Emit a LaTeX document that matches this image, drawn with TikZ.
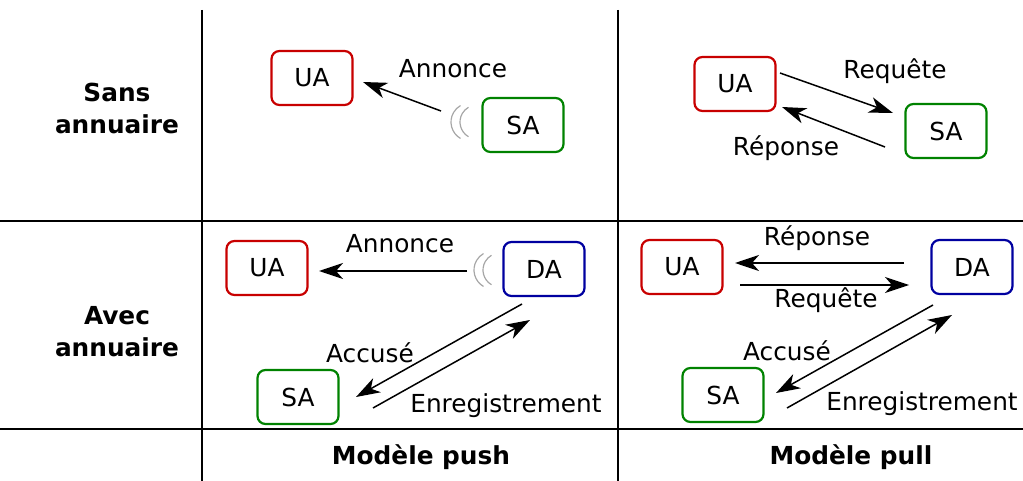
\documentclass[tikz,border=0pt]{standalone}
\usepackage{fontspec}
\setmainfont{DejaVu Sans}
\usetikzlibrary{arrows.meta}
\definecolor{uared}{RGB}{200,0,0}
\definecolor{sagreen}{RGB}{0,130,0}
\definecolor{dablue}{RGB}{0,0,160}
\begin{document}
\begin{tikzpicture}[x=1pt,y=-1pt,
  every node/.style={font=\fontsize{24.8}{30}\selectfont},
  agent/.style={draw,rounded corners=8pt,line width=2.2pt,minimum width=81pt,minimum height=54pt,inner sep=0pt},
  ua/.style={agent,draw=uared},
  sa/.style={agent,draw=sagreen},
  da/.style={agent,draw=dablue},
  msg/.style={line width=1.5pt,-{Stealth[length=24pt,width=16pt,inset=7pt]}},
  lbl/.style={inner sep=0pt},
  head/.style={font=\fontsize{24.8}{32}\selectfont\bfseries,align=center,inner sep=0pt},
  grid/.style={line width=1.4pt},
  wave/.style={gray!70,line width=1.2pt}]
\useasboundingbox (0,0) rectangle (1023,481);
% grid
\draw[grid] (202,10) -- (202,481);
\draw[grid] (618,10) -- (618,481);
\draw[grid] (0,221) -- (1023,221);
\draw[grid] (0,429) -- (1023,429);
% headers
\node[head] (h1) at (117,108) {Sans\\annuaire};
\node[head] (h2) at (117,332) {Avec\\annuaire};
\node[head] (h3) at (421,457) {Modèle push};
\node[head] (h4) at (851,457) {Modèle pull};
% top-left
\node[ua] (ua1) at (312,78) {UA};
\node[sa] (sa1) at (523,125) {SA};
\coordinate (a1s) at (441,111);
\coordinate (a1e) at (363,82);
\draw[msg] (a1s) -- (a1e);
\node[lbl] (l1) at (453,69) {Annonce};
\draw[wave] (470,122) ++(120:19) arc[start angle=120,end angle=240,radius=19];
\draw[wave] (477,122) ++(120:17) arc[start angle=120,end angle=240,radius=17];
% top-right
\node[ua] (ua2) at (735,84) {UA};
\node[sa] (sa2) at (946,131) {SA};
\coordinate (b1s) at (780,73);
\coordinate (b1e) at (893,113);
\coordinate (b2s) at (885,147);
\coordinate (b2e) at (782,107);
\draw[msg] (b1s) -- (b1e);
\draw[msg] (b2s) -- (b2e);
\node[lbl] (l2) at (895,71) {Requête};
\node[lbl] (l3) at (786,148) {Réponse};
% bottom-left
\node[ua] (ua3) at (267,268) {UA};
\node[da] (da3) at (544,269) {DA};
\node[sa] (sa3) at (298,397) {SA};
\coordinate (c1s) at (467,271);
\coordinate (c1e) at (319,271);
\draw[msg] (c1s) -- (c1e);
\node[lbl] (l4) at (400,244) {Annonce};
\draw[wave] (493,270) ++(120:19) arc[start angle=120,end angle=240,radius=19];
\draw[wave] (500,270) ++(120:17) arc[start angle=120,end angle=240,radius=17];
\coordinate (c2s) at (522,304);
\coordinate (c2e) at (356,397);
\coordinate (c3s) at (373,408);
\coordinate (c3e) at (530,320);
\draw[msg] (c2s) -- (c2e);
\draw[msg] (c3s) -- (c3e);
\node[lbl] (l5) at (370,353) {Accusé};
\node[lbl] (l6) at (506,406) {Enregistrement};
% bottom-right
\node[ua] (ua4) at (682,267) {UA};
\node[da] (da4) at (972,267) {DA};
\node[sa] (sa4) at (723,395) {SA};
\coordinate (d1s) at (904,263);
\coordinate (d1e) at (735,263);
\coordinate (d2s) at (740,285);
\coordinate (d2e) at (909,285);
\draw[msg] (d1s) -- (d1e);
\draw[msg] (d2s) -- (d2e);
\node[lbl] (l7) at (817,238) {Réponse};
\node[lbl] (l8) at (826,300) {Requête};
\coordinate (d3s) at (933,305);
\coordinate (d3e) at (776,393);
\coordinate (d4s) at (787,408);
\coordinate (d4e) at (952,315);
\draw[msg] (d3s) -- (d3e);
\draw[msg] (d4s) -- (d4e);
\node[lbl] (l9) at (787,351) {Accusé};
\node[lbl] (l10) at (922,404) {Enregistrement};
\end{tikzpicture}
\end{document}
